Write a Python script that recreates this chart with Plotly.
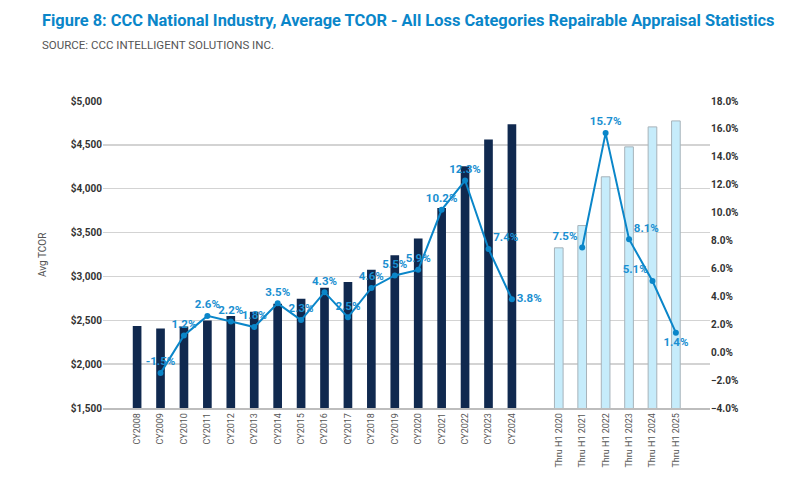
import plotly.graph_objects as go

cy_categories = ["CY2008", "CY2009", "CY2010", "CY2011", "CY2012", "CY2013", "CY2014", "CY2015",
                 "CY2016", "CY2017", "CY2018", "CY2019", "CY2020", "CY2021", "CY2022", "CY2023", "CY2024"]
gap_category = [" "]
h1_categories = ["Thru H1 2020", "Thru H1 2021", "Thru H1 2022", "Thru H1 2023", "Thru H1 2024", "Thru H1 2025"]

cy_tcor = [2435, 2405, 2430, 2497, 2549, 2598, 2689, 2746, 2871, 2937, 3076, 3242, 3432, 3780, 4256, 4561, 4735]
h1_tcor = [3326, 3580, 4136, 4477, 4705, 4773]

cy_pct = [None, -1.5, 1.2, 2.6, 2.2, 1.8, 3.5, 2.3, 4.3, 2.5, 4.6, 5.5, 5.9, 10.2, 12.3, 7.4, 3.8]
h1_pct = [None, 7.5, 15.7, 8.1, 5.1, 1.4]

all_categories = cy_categories + gap_category + h1_categories
all_pct = cy_pct + [None] + h1_pct
label_pos = ["top center"] * len(all_categories)
label_pos[15] = "top right"
label_pos[16] = "middle right"
label_pos[19] = "top left"
label_pos[21] = "top right"
label_pos[22] = "top left"
label_pos[23] = "bottom center"

BLUE = "#0a86c9"
NAVY = "#10294f"
LIGHT = "#c6ecfb"

W, H = 800, 479
L, R, T, B = 103, 90, 101, 71
PW, PH = W - L - R, H - T - B


def px_x(x):
    return (x - L) / PW


def px_y(y):
    return (H - B - y) / PH


fig = go.Figure()
fig.add_trace(go.Bar(x=cy_categories, y=cy_tcor, marker=dict(color=NAVY, line=dict(width=0)),
                     width=0.37, showlegend=False, hoverinfo="skip"))
fig.add_trace(go.Bar(x=h1_categories, y=h1_tcor, marker=dict(color=LIGHT, line=dict(color="#a7b3ba", width=1)),
                     width=0.37, showlegend=False, hoverinfo="skip"))
fig.add_trace(go.Scatter(x=all_categories, y=all_pct, yaxis="y2", mode="lines+markers+text",
                         line=dict(color=BLUE, width=2), marker=dict(color=BLUE, size=6),
                         text=[None if v is None else f"{v:.1f}%" for v in all_pct],
                         textposition=label_pos,
                         textfont=dict(family="Roboto", size=11.5, color="#1a8fd1", weight="bold"),
                         connectgaps=False, showlegend=False, hoverinfo="skip", cliponaxis=False))

fig.update_layout(
    width=W, height=H,
    paper_bgcolor="white", plot_bgcolor="white",
    margin=dict(l=L, r=R, t=T, b=B, autoexpand=False),
    barmode="overlay",
    font=dict(family="Roboto", color="#444444"),
    xaxis=dict(type="category", categoryorder="array", categoryarray=all_categories, automargin=False,
               tickangle=-90, tickfont=dict(size=9, color="#555555"),
               showline=True, linecolor="#bdbdbd", linewidth=1.5, showgrid=False, ticks=""),
    yaxis=dict(range=[1500, 5000], dtick=500, tickprefix="$", tickformat=",", automargin=False,
               tickfont=dict(size=10, color="#333333", weight="bold"),
               showgrid=True, gridcolor="#d3d3d3", gridwidth=1.5, zeroline=False),
    yaxis2=dict(range=[-4, 18], dtick=2, overlaying="y", side="right", tickformat=".1f", ticksuffix="%",
                automargin=False, tickfont=dict(size=10, color="#333333", weight="bold"),
                showgrid=False, zeroline=False),
)

fig.add_annotation(text="<b>Figure 8: CCC National Industry, Average TCOR - All Loss Categories Repairable Appraisal Statistics</b>",
                   xref="paper", yref="paper", x=px_x(40), y=px_y(20),
                   xanchor="left", yanchor="middle", showarrow=False,
                   font=dict(family="Roboto", size=16.4, color=BLUE))
fig.add_annotation(text="SOURCE: CCC INTELLIGENT SOLUTIONS INC.",
                   xref="paper", yref="paper", x=px_x(40), y=px_y(45),
                   xanchor="left", yanchor="middle", showarrow=False,
                   font=dict(family="Roboto", size=11.5, color="#555555"))
fig.add_annotation(text="Avg TCOR", textangle=-90,
                   xref="paper", yref="paper", x=px_x(42), y=px_y(255),
                   xanchor="center", yanchor="middle", showarrow=False,
                   font=dict(family="Roboto", size=10, color="#555555"))

fig.write_html("out.html", config={"displayModeBar": False, "staticPlot": True},
               post_script="document.body.style.margin='0';document.body.style.overflow='hidden';")
